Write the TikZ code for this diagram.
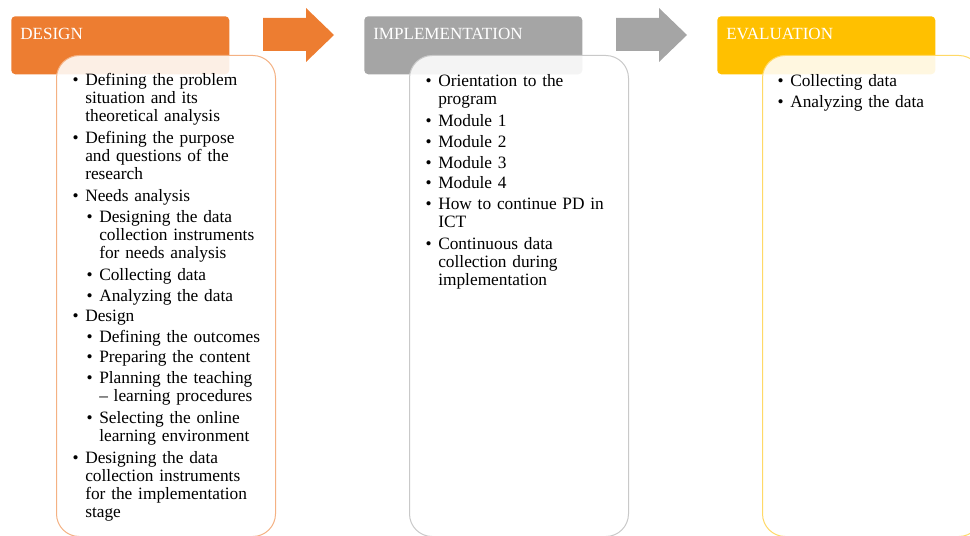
\documentclass[tikz,border=0pt]{standalone}
\usepackage{fontspec}
\setmainfont{Liberation Serif}
\usetikzlibrary{positioning}
\definecolor{designc}{HTML}{ED7D31}
\definecolor{implc}{HTML}{A5A5A5}
\definecolor{evalc}{HTML}{FFC000}
\definecolor{designl}{HTML}{F4B183}
\definecolor{impll}{HTML}{C9C9C9}
\definecolor{evall}{HTML}{FFD966}
\newcommand{\itm}[2][0pt]{\par\noindent\hspace*{#1}\makebox[7.5pt][l]{\hspace*{-2pt}\textbullet}\begin{tabular}[t]{@{}l@{}}#2\end{tabular}\par\vspace{2pt}}
\tikzset{
    head/.style={anchor=north west, rounded corners=3pt, text width=150pt, inner xsep=6.75pt, inner ysep=0pt, text height=17.6pt, text depth=25.9pt, align=left, text=white, font=\fontsize{12.8}{14}\selectfont},
    card/.style={anchor=north west, rounded corners=17pt, minimum width=164.25pt, minimum height=360.75pt, fill=white, fill opacity=0.88, line width=0.75pt},
    steplist/.style={anchor=north west, inner sep=0pt, text width=170pt, align=left, font=\fontsize{13}{13.5}\selectfont}
}
\begin{document}
\begin{tikzpicture}[x=0.75pt,y=-0.75pt]
        \useasboundingbox (0,0) rectangle (970,535);
        \clip (0,0) rectangle (970,535);
        \draw (11,16) node [head, fill=designc] (design) {DESIGN};
        \draw (364,16) node [head, fill=implc] (impl) {IMPLEMENTATION};
        \draw (717,16) node [head, fill=evalc] (eval) {EVALUATION};
        \draw [fill=designc, draw=none] (263,18) -- (306,18) -- (306,8) -- (334,35) -- (306,62) -- (306,51) -- (263,51) -- cycle ;
        \draw [fill=implc, draw=none] (616,18) -- (659,18) -- (659,8) -- (687,35) -- (659,62) -- (659,51) -- (616,51) -- cycle ;
        \draw (56,55) node [card, draw=designl] (designcard) {};
        \draw (409,55) node [card, draw=impll] (implcard) {};
        \draw (762,55) node [card, draw=evall] (evalcard) {};
        \draw (75,67.4) node [steplist] (designlist) {%
            \itm{Defining the problem\\situation and its\\theoretical analysis}
            \itm{Defining the purpose\\and questions of the\\research}
            \itm{Needs analysis}
            \itm[10.5pt]{Designing the data\\collection instruments\\for needs analysis}
            \itm[10.5pt]{Collecting data}
            \itm[10.5pt]{Analyzing the data}
            \itm{Design}
            \itm[10.5pt]{Defining the outcomes}
            \itm[10.5pt]{Preparing the content}
            \itm[10.5pt]{Planning the teaching\\– learning procedures}
            \itm[10.5pt]{Selecting the online\\learning environment}
            \itm{Designing the data\\collection instruments\\for the implementation\\stage}};
        \draw (428,68.4) node [steplist] (impllist) {%
            \itm{Orientation to the\\program}
            \itm{Module 1}
            \itm{Module 2}
            \itm{Module 3}
            \itm{Module 4}
            \itm{How to continue PD in\\ICT}
            \itm{Continuous data\\collection during\\implementation}};
        \draw (780,68.4) node [steplist] (evallist) {%
            \itm{Collecting data}
            \itm{Analyzing the data}};
\end{tikzpicture}
\end{document}
